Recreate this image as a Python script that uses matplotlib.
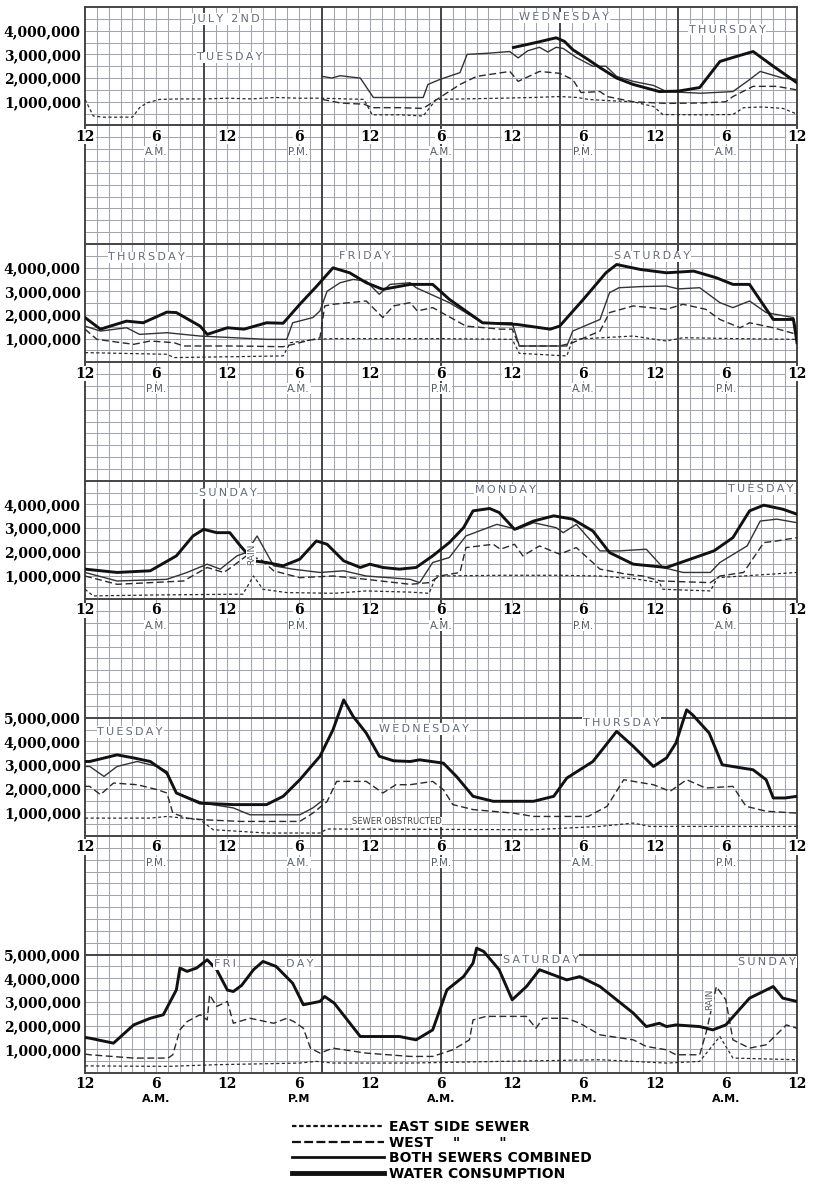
import matplotlib

matplotlib.use("Agg")
import matplotlib.pyplot as plt
from matplotlib.lines import Line2D


# values are (hour from the panel's first midnight/noon, million gallons per day)
p1_east = [(0, 1.10), (0.7, 0.40), (1.5, 0.35), (4.0, 0.35), (4.6, 0.75), (5.2, 0.95), (6.3, 1.10), (8, 1.12),
           (10, 1.12), (12, 1.15), (14, 1.12), (16, 1.18), (18, 1.15), (20, 1.15), (22, 1.12), (23.5, 1.10),
           (24.2, 0.45), (26.5, 0.45), (28.5, 0.40), (29.6, 1.10), (32, 1.12), (35, 1.15), (37.7, 1.18),
           (40, 1.22), (41.5, 1.18), (42.4, 1.10), (44, 1.05), (46.2, 1.00), (47.9, 0.80), (48.7, 0.46),
           (52, 0.45), (54.6, 0.46), (55.5, 0.75), (57, 0.78), (58.8, 0.72), (60, 0.48)]
p1_west = [(20, 1.10), (21.5, 0.95), (22.5, 0.92), (23.5, 0.90), (24.2, 0.75), (26.5, 0.75), (28.5, 0.72),
           (29.9, 1.18), (31.6, 1.73), (33, 2.07), (35.8, 2.28), (36.5, 1.86), (38.3, 2.28), (40, 2.20),
           (41.1, 1.94), (41.8, 1.39), (43.4, 1.43), (44, 1.22), (46.2, 1.00), (49, 0.93), (52, 0.95),
           (54, 1.00), (54.6, 1.22), (56.3, 1.65), (58.3, 1.65), (60, 1.50)]
p1_comb = [(20, 2.07), (20.8, 2.00), (21.5, 2.10), (22.3, 2.05), (23.2, 2.00), (24.3, 1.18), (26.5, 1.18),
           (28.5, 1.18), (28.9, 1.73), (29.9, 1.94), (31.6, 2.23), (32.2, 3.00), (34, 3.05), (35.8, 3.12),
           (36.5, 2.85), (37.3, 3.15), (38.3, 3.30), (39, 3.10), (39.7, 3.30), (40.3, 3.25), (41.4, 2.87),
           (42.8, 2.50), (43.9, 2.50), (44.8, 2.07), (46.2, 1.86), (47.9, 1.69), (49, 1.43), (51.9, 1.36),
           (54.6, 1.43), (55.8, 1.86), (56.9, 2.28), (58.8, 2.00), (60, 1.94)]
p1_water = [(36.1, 3.29), (38, 3.50), (39.7, 3.70), (40.4, 3.55), (41.1, 3.20), (42.4, 2.78), (43.4, 2.44),
            (44.8, 2.00), (46.2, 1.73), (48.4, 1.43), (50, 1.45), (51.8, 1.60), (53.5, 2.70), (54.6, 2.87),
            (56.3, 3.12), (58, 2.50), (60, 1.80)]

p2_east = [(0, 0.41), (6.9, 0.34), (7.5, 0.20), (16.7, 0.27), (17.3, 0.83), (19.5, 0.97), (20.9, 1.00),
           (30, 1.00), (36, 0.97), (36.6, 0.38), (40.6, 0.27), (41.1, 0.97), (46.2, 1.11), (49, 0.90),
           (50.4, 1.04), (55, 1.00), (60, 0.97)]
p2_west = [(0, 1.40), (1, 0.97), (4.1, 0.76), (5.5, 0.90), (7.5, 0.83), (8.3, 0.69), (12.5, 0.69),
           (16.7, 0.66), (18.1, 0.83), (19.8, 1.04), (20.2, 2.38), (20.9, 2.45), (23.7, 2.59), (25.1, 1.89),
           (26, 2.38), (27.4, 2.52), (28, 2.17), (29.3, 2.31), (32.1, 1.53), (35, 1.40), (36, 1.40),
           (36.6, 0.69), (40, 0.69), (41.1, 0.83), (43.4, 1.32), (44.2, 2.10), (46.2, 2.38), (49, 2.24),
           (50.4, 2.45), (52.3, 2.24), (53.5, 1.81), (55.2, 1.46), (56, 1.67), (58, 1.46), (60, 1.18)]
p2_comb = [(0, 1.53), (1.3, 1.32), (3.5, 1.46), (4.6, 1.18), (6.9, 1.25), (9.7, 1.11), (12.5, 1.04),
           (15.3, 0.97), (17, 0.97), (17.5, 1.67), (19.2, 1.89), (19.8, 2.17), (20.4, 3.00), (21.5, 3.36),
           (22.6, 3.50), (23.7, 3.43), (24.8, 2.87), (25.7, 3.29), (27.4, 3.36), (27.9, 3.15), (30.7, 2.52),
           (33.5, 1.67), (36, 1.67), (36.6, 0.69), (40.6, 0.69), (41.1, 1.32), (43.4, 1.81), (44.2, 2.94),
           (45, 3.15), (47, 3.20), (49, 3.22), (50, 3.10), (51.8, 3.15), (53.5, 2.52), (54.6, 2.31),
           (56, 2.59), (57.4, 2.10), (59.7, 1.89), (60, 1.11)]
p2_water = [(0, 1.89), (1.3, 1.40), (3.5, 1.74), (4.9, 1.67), (6.9, 2.12), (7.7, 2.10), (9.7, 1.53),
            (10.3, 1.18), (12, 1.46), (13.4, 1.40), (15.3, 1.67), (16.7, 1.65), (18.1, 2.45), (19.5, 3.20),
            (20.9, 3.99), (22.3, 3.78), (23.7, 3.36), (25.1, 3.08), (27.4, 3.29), (29.3, 3.29), (30.7, 2.66),
            (33.5, 1.67), (36.4, 1.60), (39.2, 1.40), (40, 1.53), (42, 2.66), (43.9, 3.78), (44.8, 4.13),
            (46.8, 3.92), (49, 3.78), (51.3, 3.85), (53.2, 3.57), (54.6, 3.29), (56, 3.29), (58, 1.81),
            (59.7, 1.81), (60, 0.83)]

p3_east = [(0, 0.42), (0.7, 0.14), (6, 0.18), (12.5, 0.21), (13.3, 0.21), (14.2, 0.98), (15, 0.42),
           (17, 0.28), (21, 0.25), (23.7, 0.35), (27.4, 0.30), (29, 0.25), (29.6, 0.98), (35, 1.01),
           (40, 1.01), (43.4, 0.98), (46.2, 0.87), (48.4, 0.70), (48.7, 0.42), (52.7, 0.35), (53.3, 0.91),
           (60, 1.13)]
p3_west = [(0, 0.98), (2.7, 0.63), (8.3, 0.77), (10.3, 1.34), (11.7, 1.13), (12.5, 1.41), (13.6, 1.83),
           (14.8, 1.69), (15.9, 1.20), (18.1, 0.91), (20.9, 0.98), (23.7, 0.84), (27.4, 0.63), (29, 0.70),
           (29.9, 0.98), (31.6, 1.13), (32.1, 2.18), (34.4, 2.32), (35, 2.11), (36.2, 2.32), (36.9, 1.83),
           (38.3, 2.25), (40, 1.90), (41.4, 2.18), (43.4, 1.27), (45.6, 1.06), (47, 0.98), (48.5, 0.77),
           (52.7, 0.70), (53.5, 0.98), (55.5, 1.13), (57.2, 2.39), (58.3, 2.46), (60, 2.60)]
p3_comb = [(0, 1.13), (2.7, 0.77), (6.9, 0.84), (8.6, 1.13), (10.3, 1.48), (11.4, 1.27), (12.8, 1.83),
           (13.6, 1.97), (14.5, 2.67), (15.9, 1.41), (17.5, 1.27), (19.8, 1.13), (21.8, 1.20), (23.7, 0.98),
           (27.4, 0.84), (28.2, 0.70), (29.3, 1.55), (30.7, 1.76), (32.1, 2.67), (34.7, 3.16), (36.4, 2.95),
           (37.8, 3.23), (39.7, 3.02), (40.3, 2.81), (41.4, 3.16), (43.4, 2.04), (45, 2.04), (47.3, 2.11),
           (48.7, 1.34), (50.4, 1.13), (52.7, 1.13), (53.5, 1.55), (55.8, 2.25), (56.9, 3.30), (58.3, 3.38),
           (60, 3.23)]
p3_water = [(0, 1.27), (2.7, 1.13), (5.5, 1.20), (7.7, 1.83), (9.1, 2.67), (10, 2.95), (11.1, 2.81),
            (12.2, 2.81), (13.1, 2.25), (14.2, 1.62), (15.3, 1.55), (16.7, 1.41), (18.1, 1.69), (19.5, 2.46),
            (20.4, 2.32), (21.8, 1.62), (23.2, 1.34), (24, 1.48), (25.1, 1.34), (26.5, 1.27), (27.9, 1.34),
            (29.3, 1.83), (30.7, 2.39), (31.9, 3.02), (32.7, 3.73), (34.1, 3.83), (34.9, 3.66), (36.2, 2.95),
            (37.8, 3.30), (39.5, 3.52), (41.1, 3.38), (42.8, 2.88), (44.2, 1.97), (46.2, 1.48), (49, 1.34),
            (51, 1.69), (53, 2.04), (54.6, 2.60), (56, 3.73), (57.2, 3.97), (58.8, 3.80), (60, 3.59)]

p4_east = [(0, 0.76), (5.5, 0.76), (6.9, 0.83), (9.7, 0.69), (10.8, 0.27), (15.3, 0.13), (19.8, 0.13),
           (20.4, 0.30), (37.8, 0.27), (43.4, 0.41), (46.2, 0.55), (47.6, 0.41), (60, 0.41)]
p4_west = [(0, 2.10), (0.4, 2.10), (1.3, 1.75), (2.4, 2.24), (4.4, 2.17), (6.1, 1.96), (6.9, 1.82),
           (7.4, 0.97), (8.6, 0.76), (10, 0.69), (13.1, 0.62), (18.1, 0.62), (19.2, 0.97), (20.4, 1.46),
           (21.2, 2.31), (23.7, 2.31), (25.1, 1.82), (26.2, 2.17), (27.4, 2.17), (29.3, 2.31), (30.2, 1.96),
           (31, 1.33), (32.7, 1.12), (36.1, 0.97), (37.8, 0.83), (42.4, 0.83), (44, 1.26), (45.4, 2.38),
           (47.9, 2.17), (49.3, 1.89), (50.7, 2.38), (52.3, 2.03), (54.6, 2.10), (55.7, 1.26), (57.4, 1.05),
           (60, 0.97)]
p4_comb = [(0, 2.94), (0.4, 2.94), (1.6, 2.52), (2.7, 2.94), (4.4, 3.15), (6.1, 2.94), (6.9, 2.73),
           (7.7, 1.82), (10, 1.39), (12.5, 1.19), (13.9, 0.90), (18.1, 0.90), (19.2, 1.19), (20.1, 1.54)]
p4_water = [(0, 3.15), (0.4, 3.15), (2.7, 3.43), (4.1, 3.30), (5.5, 3.15), (6.9, 2.66), (7.7, 1.82),
            (9.7, 1.39), (12.5, 1.33), (15.3, 1.33), (16.7, 1.68), (18.1, 2.38), (19.8, 3.37), (20.9, 4.49),
            (21.8, 5.75), (22.6, 5.05), (23.7, 4.35), (24.8, 3.37), (26, 3.18), (27.4, 3.15), (28.2, 3.22),
            (30.2, 3.08), (31.3, 2.52), (32.7, 1.68), (34.4, 1.47), (37.8, 1.47), (39.5, 1.68), (40.6, 2.45),
            (42.8, 3.15), (44.8, 4.42), (46.2, 3.79), (47.9, 2.94), (49, 3.30), (49.8, 3.93), (50.7, 5.33),
            (51.2, 5.12), (52.6, 4.35), (53.7, 3.01), (56.3, 2.80), (57.4, 2.38), (58, 1.61), (59, 1.61),
            (60, 1.68)]

p5_east = [(0, 0.30), (7, 0.28), (11, 0.35), (18.1, 0.42), (19.5, 0.49), (20.9, 0.42), (27.4, 0.42),
           (35, 0.49), (43.4, 0.56), (49, 0.42), (51.8, 0.49), (53.5, 1.54), (54.6, 0.63), (60, 0.56)]
p5_west = [(0, 0.80), (0.4, 0.77), (4.1, 0.63), (7, 0.63), (7.4, 0.77), (8, 1.82), (8.6, 2.17), (9.7, 2.46),
           (10.3, 2.24), (10.5, 3.30), (11.1, 2.81), (12, 3.02), (12.5, 2.10), (13.9, 2.31), (15.9, 2.10),
           (17, 2.31), (17.6, 2.17), (18.4, 1.89), (19, 1.05), (19.8, 0.84), (20.9, 1.05), (23.7, 0.84),
           (27.4, 0.70), (29.3, 0.70), (31, 0.98), (32.4, 1.40), (32.7, 2.24), (33.8, 2.39), (37.2, 2.39),
           (38, 1.89), (38.6, 2.31), (40.6, 2.31), (41.7, 2.10), (43.4, 1.61), (46.2, 1.40), (47.3, 1.12),
           (49, 0.98), (49.8, 0.77), (51.8, 0.77), (52.4, 1.82), (53.2, 3.65), (54, 3.09), (54.6, 1.40),
           (56, 1.05), (57.4, 1.19), (59.1, 2.03), (60, 1.89)]
p5_comb = []
p5_water = [(0, 1.50), (0.4, 1.47), (2.4, 1.26), (4.1, 2.03), (5.5, 2.31), (6.6, 2.46), (7.7, 3.51),
            (8, 4.43), (8.6, 4.29), (9.4, 4.43), (10.3, 4.78), (11.1, 4.36), (12, 3.50), (12.5, 3.44),
            (13.2, 3.70), (14.2, 4.36), (15, 4.71), (16.1, 4.50), (17.5, 3.79), (18.4, 2.88), (19.8, 3.02),
            (20.2, 3.23), (21, 2.95), (23.2, 1.54), (26.5, 1.54), (27.9, 1.40), (29.3, 1.82), (30.5, 3.51),
            (31.9, 4.07), (32.7, 4.64), (33, 5.27), (33.6, 5.13), (34.9, 4.36), (36, 3.09), (37.2, 3.65),
            (38.3, 4.36), (40.6, 3.93), (41.7, 4.07), (43.4, 3.65), (46.2, 2.53), (47.3, 1.96), (48.4, 2.10),
            (49, 1.96), (49.8, 2.03), (51.8, 1.96), (52.9, 1.82), (54, 2.03), (56, 3.16), (58, 3.65),
            (58.8, 3.16), (60, 3.02)]

hour_labels = ["12", "6", "12", "6", "12", "6", "12", "6", "12", "6", "12"]
p1_ampm = ["A.M.", "P.M.", "A.M.", "P.M.", "A.M."]
p2_ampm = ["P.M.", "A.M.", "P.M.", "A.M.", "P.M."]
p3_ampm = ["A.M.", "P.M.", "A.M.", "P.M.", "A.M."]
p4_ampm = ["P.M.", "A.M.", "P.M.", "A.M.", "P.M."]
p5_ampm = ["A.M.", "P.M", "A.M.", "P.M.", "A.M."]

p1_days = [("JULY 2ND", 11.9, 4.5), ("TUESDAY", 12.2, 2.87), ("WEDNESDAY", 40.4, 4.56), ("THURSDAY", 54.1, 4.05)]
p2_days = [("THURSDAY", 5.2, 4.43), ("FRIDAY", 23.6, 4.47), ("SATURDAY", 47.8, 4.47)]
p3_days = [("SUNDAY", 12.0, 4.47), ("MONDAY", 35.4, 4.6), ("TUESDAY", 56.9, 4.64)]
p4_days = [("TUESDAY", 3.8, 4.4), ("WEDNESDAY", 28.6, 4.53), ("THURSDAY", 45.2, 4.78)]
p5_days = [("FRI", 11.8, 4.6), ("DAY", 18.1, 4.6), ("SATURDAY", 38.4, 4.77), ("SUNDAY", 57.5, 4.69)]

W, H = 814, 1184
fig = plt.figure(figsize=(W / 100, H / 100), dpi=100)

# graph paper (pixel box of the scanned sheet)
gx0, gx1, gtop, gbot = 85, 797, 7, 1073
left, width = gx0 / W, (gx1 - gx0) / W
bottom, height = 1 - gbot / H, (gbot - gtop) / H

bg = fig.add_axes([left, bottom, width, height])
bg.set_xlim(0, 60)
bg.set_ylim(0, 90)
bg.axis("off")
for i in range(61):
    if i % 10 == 0:
        bg.axvline(i, color="#444444", lw=1.4, clip_on=False, zorder=2)
    else:
        bg.axvline(i, color="#a2a5b0", lw=0.75, zorder=1)
for j in range(91):
    if j % 10 == 0:
        bg.axhline(j, color="#444444", lw=1.4, clip_on=False, zorder=2)
    else:
        bg.axhline(j, color="#a2a5b0", lw=0.75, zorder=1)

east_style = dict(color="#2a2a2a", lw=0.9, ls=(0, (2.5, 2)))
west_style = dict(color="#2a2a2a", lw=1.0, ls=(0, (5, 2.5)))
comb_style = dict(color="#333333", lw=1.0)
water_style = dict(color="#111111", lw=2.1)

serif = dict(family="DejaVu Serif", weight="bold", size=10)


def spaced(s):
    return "\u2009".join(s)


panels = [
    (80, 10, [p1_east, p1_west, p1_comb, p1_water], p1_ampm, p1_days, False),
    (60, 20, [p2_east, p2_west, p2_comb, p2_water], p2_ampm, p2_days, False),
    (40, 20, [p3_east, p3_west, p3_comb, p3_water], p3_ampm, p3_days, False),
    (20, 20, [p4_east, p4_west, p4_comb, p4_water], p4_ampm, p4_days, False),
    (0, 20, [p5_east, p5_west, p5_comb, p5_water], p5_ampm, p5_days, True),
]

axes = []
for base, hc, series, ampm, days, last in panels:
    ax = fig.add_axes([left, bottom + base / 90 * height, width, hc / 90 * height])
    ax.patch.set_visible(False)
    for s in ax.spines.values():
        s.set_visible(False)
    ax.set_xlim(0, 60)
    ax.set_ylim(0, hc / 2)

    for pts, style in zip(series, [east_style, west_style, comb_style, water_style]):
        if pts:
            ax.plot([p[0] for p in pts], [p[1] for p in pts], solid_joinstyle="round", **style)

    top = 5 if base <= 20 else 4
    ax.set_yticks(range(1, top + 1))
    ax.set_yticklabels([f"{v * 1000000:,}" for v in range(1, top + 1)], fontdict=serif)
    ax.tick_params(axis="y", length=0, pad=3)

    ax.set_xticks(range(0, 61, 6))
    ax.set_xticklabels(hour_labels, fontdict=serif)
    ax.tick_params(axis="x", length=0, pad=3)
    for lbl in ax.get_xticklabels():
        lbl.set_bbox(dict(facecolor="white", edgecolor="none", pad=0.6))

    for k, txt in enumerate(ampm):
        if last:
            kw = dict(family="DejaVu Sans", weight="bold", size=8, color="black")
        else:
            kw = dict(family="DejaVu Sans", size=7.5, color="#555b66",
                      bbox=dict(facecolor="white", edgecolor="none", pad=0.5))
        ax.annotate(txt, xy=(6 + 12 * k, 0), xycoords=("data", "axes fraction"),
                    xytext=(0, -19), textcoords="offset points", ha="center", va="center", **kw)

    for txt, hx, vy in days:
        ax.text(hx, vy, spaced(txt), ha="center", va="center", fontsize=8, family="DejaVu Sans",
                color="#636a7c", bbox=dict(facecolor="white", edgecolor="none", pad=0.6))
    axes.append(ax)

axes[2].text(14.0, 1.9, "RAIN", rotation=90, ha="center", va="center", fontsize=6.5,
             family="DejaVu Sans", color="#555b66", bbox=dict(facecolor="white", edgecolor="none", pad=0.3))
axes[4].text(52.6, 3.09, "RAIN", rotation=90, ha="center", va="center", fontsize=6.5,
             family="DejaVu Sans", color="#555b66", bbox=dict(facecolor="white", edgecolor="none", pad=0.3))
axes[3].text(26.3, 0.61, "SEWER OBSTRUCTED", ha="center", va="center", fontsize=6,
             family="DejaVu Sans", color="#444444", bbox=dict(facecolor="white", edgecolor="none", pad=0.3))

handles = [
    Line2D([], [], color="#111111", lw=1.6, ls=(0, (2, 1.2))),
    Line2D([], [], color="#111111", lw=1.6, ls=(0, (4, 1.5))),
    Line2D([], [], color="#111111", lw=2.0),
    Line2D([], [], color="#111111", lw=3.5),
]
labels = ["EAST SIDE SEWER", 'WEST    "        "', "BOTH SEWERS COMBINED", "WATER CONSUMPTION"]
fig.legend(handles, labels, loc="upper left", bbox_to_anchor=(292 / W, 1 - 1120 / H), frameon=False,
           handlelength=6.6, handletextpad=0.4, labelspacing=0.12, borderpad=0, borderaxespad=0,
           prop=dict(family="DejaVu Sans", weight="bold", size=10))

fig.savefig("out.png", dpi=100)
